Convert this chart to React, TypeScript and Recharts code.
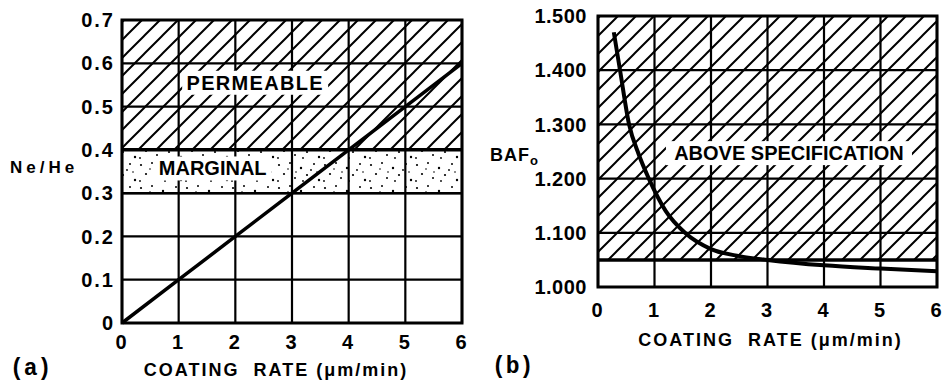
import React from 'react'
import {
  LineChart,
  Line,
  XAxis,
  YAxis,
  CartesianGrid,
  ReferenceArea,
  ReferenceLine,
  ReferenceDot,
} from 'recharts'

// shared x axis (coating rate, um/min)
const rateTicks = [0, 1, 2, 3, 4, 5, 6]

// (a) Ne/He ratio vs coating rate
const neHeTicks = [0, 0.1, 0.2, 0.3, 0.4, 0.5, 0.6, 0.7]
const neHeRate = [0, 1, 2, 3, 4, 5, 6]
const neHeRatio = [0, 0.1, 0.2, 0.3, 0.4, 0.5, 0.6]
const permeableMin = 0.4
const marginalMin = 0.3

// (b) BAF0 vs coating rate
const bafTicks = [1.0, 1.1, 1.2, 1.3, 1.4, 1.5]
const bafRate = [0.28, 0.39, 0.55, 0.72, 0.9, 1.2, 1.54, 2, 2.5, 3, 4, 5, 6]
const bafValue = [1.47, 1.4, 1.3, 1.245, 1.2, 1.14, 1.1, 1.07, 1.057, 1.05, 1.04, 1.034, 1.029]
const specLimit = 1.05

const neHeData = neHeRate.map((x, i) => ({ x, y: neHeRatio[i] }))
const bafData = bafRate.map((x, i) => ({ x, y: bafValue[i] }))

const FONT = '"Liberation Sans", Arial, sans-serif'
const INK = '#000'

const tickStyle = { fill: INK, fontSize: 20, fontWeight: 700, fontFamily: FONT, letterSpacing: 2 }

// axis title under the x axis
const xTitle = (dx: number, dy: number) => (props: any) => {
  const { x, y, width } = props.viewBox
  return (
    <text
      x={x + width / 2 + dx}
      y={y + dy}
      textAnchor="middle"
      dominantBaseline="central"
      fontFamily={FONT}
      fontWeight={700}
      fontSize={18}
      letterSpacing={2}
      fill={INK}
      style={{ whiteSpace: 'pre' }}
    >
      COATING  RATE (μm/min)
    </text>
  )
}

// region name with a white box behind it
const regionLabel = (text: string, w: number, spacing = 0) => (props: any) => {
  const { x, y, width, height } = props.viewBox
  const cx = x + width / 2
  const cy = y + height / 2
  return (
    <g>
      <rect x={cx - w / 2} y={cy - 12} width={w} height={24} fill="#fff" />
      <text
        x={cx}
        y={cy}
        textAnchor="middle"
        dominantBaseline="central"
        fontFamily={FONT}
        fontWeight={700}
        fontSize={20}
        letterSpacing={spacing}
        fill={INK}
      >
        {text}
      </text>
    </g>
  )
}

function Patterns() {
  return (
    <svg width={0} height={0} style={{ position: 'absolute' }}>
      <defs>
        <pattern id="hatch" patternUnits="userSpaceOnUse" width={18} height={18}>
          <path d="M-2,2 L2,-2 M0,18 L18,0 M16,20 L20,16" stroke={INK} strokeWidth={2} />
        </pattern>
        <pattern id="stipple" patternUnits="userSpaceOnUse" width={46} height={23}>
          <circle cx={3} cy={4} r={1.1} fill={INK} />
          <circle cx={14} cy={2} r={1} fill={INK} />
          <circle cx={25} cy={7} r={1.2} fill={INK} />
          <circle cx={38} cy={3} r={1} fill={INK} />
          <circle cx={8} cy={13} r={1.1} fill={INK} />
          <circle cx={19} cy={17} r={1} fill={INK} />
          <circle cx={31} cy={14} r={1.1} fill={INK} />
          <circle cx={43} cy={19} r={1.2} fill={INK} />
          <circle cx={2} cy={20} r={0.9} fill={INK} />
          <circle cx={35} cy={9} r={0.9} fill={INK} />
          <circle cx={12} cy={8} r={0.8} fill={INK} />
          <circle cx={27} cy={20} r={0.9} fill={INK} />
          <circle cx={41} cy={11} r={0.8} fill={INK} />
          <circle cx={20} cy={11} r={0.8} fill={INK} />
        </pattern>
      </defs>
    </svg>
  )
}

function NeHeChart() {
  return (
    <LineChart width={472} height={382} data={neHeData} margin={{ top: 20, right: 10, bottom: 0, left: 0 }}>
      <CartesianGrid stroke={INK} strokeWidth={2.2} />
      <XAxis
        type="number"
        dataKey="x"
        domain={[0, 6]}
        ticks={rateTicks}
        tickLine={false}
        axisLine={false}
        tickSize={0}
        tickMargin={12}
        height={59}
        tick={tickStyle}
        label={{ content: xTitle(-16, 47) }}
      />
      <YAxis
        type="number"
        domain={[0, 0.7]}
        ticks={neHeTicks}
        tickLine={false}
        axisLine={false}
        tickSize={0}
        tickMargin={7}
        width={122}
        tick={tickStyle}
        tickFormatter={(v: number) => (v === 0 ? '0' : v.toFixed(1))}
        label={{
          content: (p: any) => (
            <text
              x={p.viewBox.x + 10}
              y={p.viewBox.y + p.viewBox.height / 2 - 4}
              dominantBaseline="central"
              fontFamily={FONT}
              fontWeight={700}
              fontSize={17}
              letterSpacing={4}
              fill={INK}
            >
              Ne/He
            </text>
          ),
        }}
      />
      <ReferenceArea x1={0} x2={6} y1={permeableMin} y2={0.7} fill="url(#hatch)" fillOpacity={1} />
      <ReferenceArea x1={0} x2={6} y1={marginalMin} y2={permeableMin} fill="url(#stipple)" fillOpacity={1} />
      <ReferenceDot x={2.35} y={0.555} r={1} fill="none" stroke="none" label={{ content: regionLabel('PERMEABLE', 146, 1.3) }} />
      <ReferenceDot x={1.6} y={0.357} r={1} fill="none" stroke="none" label={{ content: regionLabel('MARGINAL', 118) }} />
      <ReferenceLine y={permeableMin} stroke={INK} strokeWidth={3.5} />
      <ReferenceLine y={marginalMin} stroke={INK} strokeWidth={2.5} />
      <ReferenceArea x1={0} x2={6} y1={0} y2={0.7} fill="none" stroke={INK} strokeWidth={3} />
      <Line
        type="linear"
        dataKey="y"
        stroke={INK}
        strokeWidth={3.5}
        dot={false}
        isAnimationActive={false}
      />
    </LineChart>
  )
}

function BafChart() {
  return (
    <LineChart width={472} height={382} data={bafData} margin={{ top: 16, right: 7, bottom: 0, left: 0 }}>
      <CartesianGrid stroke={INK} strokeWidth={2.2} />
      <XAxis
        type="number"
        dataKey="x"
        domain={[0, 6]}
        ticks={rateTicks}
        tickLine={false}
        axisLine={false}
        tickSize={0}
        tickMargin={16}
        height={95}
        tick={tickStyle}
        label={{ content: xTitle(3, 53) }}
      />
      <YAxis
        type="number"
        domain={[1.0, 1.5]}
        ticks={bafTicks}
        tickLine={false}
        axisLine={false}
        tickSize={0}
        tickMargin={11}
        width={126}
        tick={{ ...tickStyle, letterSpacing: 0.5 }}
        tickFormatter={(v: number) => v.toFixed(3)}
        label={{
          content: (p: any) => (
            <text
              x={p.viewBox.x + 18}
              y={p.viewBox.y + p.viewBox.height / 2 + 3}
              dominantBaseline="central"
              fontFamily={FONT}
              fontWeight={700}
              fontSize={18}
              letterSpacing={1}
              fill={INK}
            >
              BAF
              <tspan fontSize={13} dy={5}>o</tspan>
            </text>
          ),
        }}
      />
      <ReferenceArea x1={0} x2={6} y1={specLimit} y2={1.5} fill="url(#hatch)" fillOpacity={1} />
      <ReferenceDot x={3.38} y={1.247} r={1} fill="none" stroke="none" label={{ content: regionLabel('ABOVE SPECIFICATION', 246) }} />
      <ReferenceLine y={specLimit} stroke={INK} strokeWidth={3.5} />
      <ReferenceArea x1={0} x2={6} y1={1.0} y2={1.5} fill="none" stroke={INK} strokeWidth={3} />
      <Line
        type="monotone"
        dataKey="y"
        stroke={INK}
        strokeWidth={4}
        dot={false}
        isAnimationActive={false}
      />
    </LineChart>
  )
}

const panelTag = { position: 'absolute' as const, fontFamily: '"Liberation Mono", monospace', fontSize: 23, fontWeight: 700, lineHeight: '24px' }

export default function App() {
  return (
    <div style={{ position: 'absolute', left: 0, top: 0, width: 944, height: 382, background: '#fff' }}>
      <Patterns />
      <div style={{ position: 'absolute', left: 0, top: 0 }}>
        <NeHeChart />
      </div>
      <div style={{ position: 'absolute', left: 472, top: 0 }}>
        <BafChart />
      </div>
      <div style={{ ...panelTag, left: 10, top: 357 }}>(a)</div>
      <div style={{ ...panelTag, left: 492, top: 355 }}>(b)</div>
    </div>
  )
}
